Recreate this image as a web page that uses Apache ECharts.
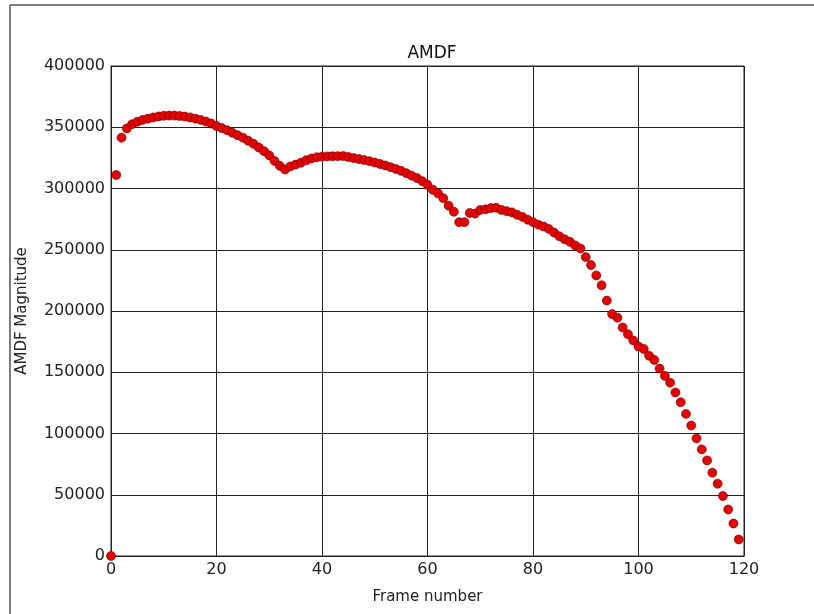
<!DOCTYPE html>
<html>
<head>
<meta charset="utf-8">
<title>AMDF</title>
<script src="https://cdn.jsdelivr.net/npm/echarts@6/dist/echarts.min.js"></script>
<style>
  html, body { margin: 0; padding: 0; background: #fff; }
  #chart { width: 814px; height: 614px; }
</style>
</head>
<body>
<div id="chart"></div>
<script>
// AMDF magnitude per frame
var frames = [];
for (var i = 0; i < 120; i++) frames.push(i);

var amdf = [
  0, 311000, 341500, 349000, 352500, 354500, 356000, 357000, 358000, 358800,
  359300, 359500, 359500, 359200, 358700, 358000, 357000, 356000, 354600, 353000,
  351000, 349300, 347600, 345500, 343500, 341500, 339000, 336500, 333500, 330500,
  327000, 322500, 318500, 315500, 318000, 319500, 321000, 323000, 324500, 325500,
  326000, 326200, 326300, 326400, 326500, 325700, 324800, 324000, 323200, 322300,
  321200, 320000, 318800, 317400, 316000, 314400, 312500, 310500, 308500, 306000,
  303000, 299000, 296000, 292000, 286000, 281000, 272500, 272500, 280000, 279500,
  282500, 283000, 284000, 284300, 282500, 281500, 280500, 278500, 276800, 274500,
  272500, 270500, 269000, 267000, 264000, 261000, 258500, 256500, 253500, 251000,
  244000, 237500, 229000, 221000, 208500, 197500, 194500, 186500, 181000, 176000,
  171000, 169000, 163500, 160000, 153000, 147000, 141500, 133500, 125500, 116000,
  106500, 96000, 87000, 78000, 68000, 59000, 49000, 38000, 26500, 13500
];

var xTicks = [0, 20, 40, 60, 80, 100, 120];
var yTicks = [0, 50000, 100000, 150000, 200000, 250000, 300000, 350000, 400000];

var points = [];
for (var j = 0; j < frames.length; j++) {
  points.push([frames[j], amdf[j]]);
}

var font = 'DejaVu Sans';
var myChart = echarts.init(document.getElementById('chart'));
var option = {
  animation: false,
  backgroundColor: '#fff',
  textStyle: { fontFamily: font },
  title: {
    text: 'AMDF',
    left: 427,
    top: 40,
    textAlign: 'center',
    textStyle: { fontFamily: font, fontSize: 17, fontWeight: 'normal', color: '#111' }
  },
  grid: {
    left: 111,
    right: 70,
    top: 66,
    bottom: 58,
    show: true,
    borderColor: '#222',
    borderWidth: 1
  },
  xAxis: {
    type: 'value',
    min: xTicks[0],
    max: xTicks[xTicks.length - 1],
    interval: 20,
    name: 'Frame number',
    nameLocation: 'middle',
    nameGap: 34,
    nameTextStyle: { fontFamily: font, fontSize: 15, color: '#222' },
    axisLine: { show: true, lineStyle: { color: '#222', width: 1 } },
    axisTick: { show: false },
    axisLabel: { fontFamily: font, fontSize: 16, color: '#222', margin: 6 },
    splitLine: { show: true, lineStyle: { color: '#222', width: 1 } }
  },
  yAxis: {
    type: 'value',
    min: yTicks[0],
    max: yTicks[yTicks.length - 1],
    interval: 50000,
    name: 'AMDF Magnitude',
    nameLocation: 'middle',
    nameGap: 81,
    nameTextStyle: { fontFamily: font, fontSize: 15, color: '#222' },
    axisLine: { show: true, lineStyle: { color: '#222', width: 1 } },
    axisTick: { show: false },
    axisLabel: {
      fontFamily: font, fontSize: 16, color: '#222', margin: 6,
      formatter: function (v) { return String(v); }
    },
    splitLine: { show: true, lineStyle: { color: '#222', width: 1 } }
  },
  series: [{
    name: 'AMDF',
    type: 'scatter',
    data: points,
    symbol: 'circle',
    symbolSize: 9,
    clip: true,
    itemStyle: { color: '#e60000', borderColor: '#5a0000', borderWidth: 0.6, opacity: 1 }
  }],
  graphic: [
    // frame around the screenshot (left and top edges)
    { type: 'line', shape: { x1: 10, y1: 5, x2: 814, y2: 5 }, style: { stroke: '#555', lineWidth: 1.5 } },
    { type: 'line', shape: { x1: 10, y1: 5, x2: 10, y2: 614 }, style: { stroke: '#555', lineWidth: 1.5 } }
  ]
};
myChart.setOption(option);
</script>
</body>
</html>
